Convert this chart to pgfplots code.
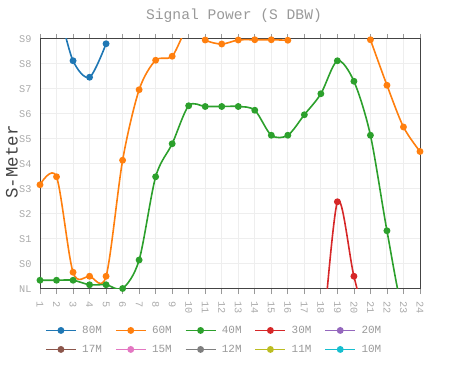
\documentclass[border=0pt]{standalone}
\usepackage{pgfplots}
\pgfplotsset{compat=1.18}
\usepackage{fontspec}
\setmainfont{Liberation Mono}
\definecolor{c1}{HTML}{1F77B4}
\definecolor{c2}{HTML}{FF7F0E}
\definecolor{c3}{HTML}{2CA02C}
\definecolor{c4}{HTML}{D62728}
\definecolor{c5}{HTML}{9467BD}
\definecolor{c6}{HTML}{8C564B}
\definecolor{c7}{HTML}{E377C2}
\definecolor{c8}{HTML}{7F7F7F}
\definecolor{c9}{HTML}{BCBD22}
\definecolor{c10}{HTML}{17BECF}
\definecolor{ticklab}{HTML}{AAAAAA}
\definecolor{titlec}{HTML}{999999}
\definecolor{gridc}{HTML}{EEEEEE}
\definecolor{framec}{HTML}{444444}
\begin{document}
\begin{tikzpicture}
\path[use as bounding box] (0bp,0bp) rectangle (470bp,376bp);
\begin{axis}[
  at={(40bp,87bp)}, anchor=south west,
  width=380bp, height=250bp, scale only axis,
  xmin=1, xmax=24, ymin=-1, ymax=9,
  xtick={1,...,24},
  ytick={-1,0,1,2,3,4,5,6,7,8,9},
  yticklabels={NL,S0,S1,S2,S3,S4,S5,S6,S7,S8,S9},
  /pgf/number format/assume math mode=true,
  xtick pos=both, xticklabel pos=lower,
  tick align=outside,
  major tick length=5bp,
  xtick style={draw=c8!80, line width=0.8bp},
  ytick style={draw=none},
  xticklabel style={yshift=-4bp, rotate=-90, anchor=west, font=\fontsize{10.3}{12}\selectfont, text=ticklab},
  yticklabel style={font=\fontsize{10.3}{12}\selectfont, text=ticklab},
  grid=major,
  major grid style={draw=gridc, line width=1bp},
  axis line style={draw=framec, line width=1bp},
  every axis plot/.append style={line width=1.6bp, mark=*, mark size=2.6bp, smooth},
  legend columns=5,
  legend cell align=left,
  legend image code/.code={\draw[mark repeat=2,mark phase=2] plot coordinates {(0bp,0bp) (15bp,0bp) (30bp,0bp)};},
  legend style={at={(0.013,-0.145)}, anchor=north west, draw=none, fill=none, inner sep=0pt,
    font=\fontsize{11}{12}\selectfont, text=titlec,
    nodes={inner xsep=0bp, inner ysep=0bp, text height=8bp, text depth=2bp},
    row sep=9bp,
    /tikz/every odd column/.append style={column sep=5.5bp},
    /tikz/every even column/.append style={column sep=13bp}},
]
% 80M
\addplot[c1, mark options={fill=c1}] coordinates {(1,10.6) (2,10.3) (3,8.13) (4,7.47) (5,8.81)};
\addlegendentry{80M}
% 60M
\addplot[c2, mark options={fill=c2}] coordinates {(1,3.17) (2,3.49) (3,-0.33) (4,-0.49) (5,-0.49) (6,4.15) (7,6.97) (8,8.15) (9,8.31) (10,9.5) (11,8.96) (12,8.8) (13,8.96) (14,8.97) (15,8.97) (16,8.95)};
\addlegendentry{60M}
% 40M
\addplot[c3, mark options={fill=c3}] coordinates {(1,-0.65) (2,-0.65) (3,-0.65) (4,-0.83) (5,-0.83) (6,-0.98) (7,0.16) (8,3.49) (9,4.81) (10,6.33) (11,6.3) (12,6.3) (13,6.3) (14,6.15) (15,5.15) (16,5.15) (17,5.97) (18,6.81) (19,8.13) (20,7.31) (21,5.15) (22,1.33) (23,-2) (24,-2.5)};
\addlegendentry{40M}
% 30M
\addplot[c4, mark options={fill=c4}] coordinates {(18,-4) (19,2.49) (20,-0.49) (21,-3)};
\addlegendentry{30M}
\addlegendimage{c5, mark options={fill=c5}}
\addlegendentry{20M}
\addlegendimage{c6, mark options={fill=c6}}
\addlegendentry{17M}
\addlegendimage{c7, mark options={fill=c7}}
\addlegendentry{15M}
\addlegendimage{c8, mark options={fill=c8}}
\addlegendentry{12M}
\addlegendimage{c9, mark options={fill=c9}}
\addlegendentry{11M}
\addlegendimage{c10, mark options={fill=c10}}
\addlegendentry{10M}
% 60M second segment
\addplot[c2, mark options={fill=c2}, forget plot] coordinates {(21,8.97) (22,7.15) (23,5.48) (24,4.5)};
\end{axis}
\node[font=\fontsize{14.7}{16}\selectfont, text=titlec] at (234bp,360bp) {Signal Power (S DBW)};
\node[rotate=90, font=\fontsize{17.5}{19}\selectfont, text=framec] at (12bp,214bp) {S-Meter};
\end{tikzpicture}
\end{document}
